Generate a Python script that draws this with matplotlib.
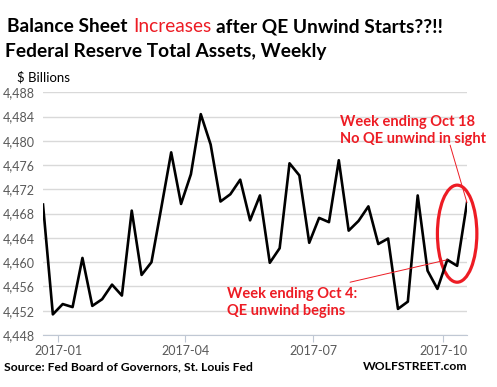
import matplotlib.pyplot as plt
import matplotlib.dates as mdates
from matplotlib import ticker
from matplotlib.patches import Ellipse
import pandas as pd

plt.rcParams['font.family'] = ['Lato', 'DejaVu Sans']

# weekly Fed total assets, $ billions
weeks = pd.date_range('2016-12-21', periods=44, freq='7D')
assets = [4469.5, 4451.4, 4453.1, 4452.6, 4460.7, 4452.8, 4453.9, 4456.3, 4454.5,
          4468.5, 4457.9, 4460.0, 4469.0, 4478.1, 4469.6, 4474.5, 4484.4, 4479.4,
          4470.0, 4471.2, 4473.6, 4466.9, 4471.0, 4459.9, 4462.3, 4476.3, 4474.3,
          4463.2, 4467.3, 4466.6, 4476.8, 4465.2, 4466.8, 4469.2, 4463.0, 4463.9,
          4452.3, 4453.5, 4471.0, 4458.6, 4455.6, 4460.4, 4459.4, 4469.8]
yticks = list(range(4448, 4489, 4))

RED = '#ED1C24'
GRAY = '#595959'

W, H = 497, 387
fig = plt.figure(figsize=(W / 100, H / 100), dpi=100)
ax = fig.add_axes([43 / W, 1 - 335 / H, 424 / W, 242.7 / H])

ax.plot(weeks, assets, color='black', lw=1.9)
ax.set_xlim(weeks[0], weeks[-1])
ax.set_ylim(yticks[0], yticks[-1])
ax.set_yticks(yticks)
ax.yaxis.set_major_formatter(ticker.StrMethodFormatter('{x:,.0f}'))
ax.xaxis.set_major_locator(mdates.MonthLocator(bymonth=[1, 4, 7, 10]))
ax.xaxis.set_major_formatter(mdates.DateFormatter('%Y-%m'))
ax.grid(axis='y', color='#d9d9d9', lw=1)
ax.set_axisbelow(True)
for s in ['left', 'right', 'top']:
    ax.spines[s].set_visible(False)
ax.spines['bottom'].set_color('#c0c8d4')
ax.tick_params(axis='y', length=0, labelcolor=GRAY, labelsize=9, pad=6)
ax.tick_params(axis='x', length=5, color='#c0c8d4', labelcolor=GRAY, labelsize=9, pad=2)

# annotations
oct18 = (weeks[-1], assets[-1])
oct4 = (weeks[-3], assets[-3])
ax.add_patch(Ellipse((mdates.date2num(weeks[-2]), 4464.7), width=28, height=16,
                     fill=False, edgecolor=RED, lw=2.3, clip_on=False))
ax.annotate('', xy=oct18, xytext=(pd.Timestamp('2017-10-06'), 4479.3),
            arrowprops=dict(arrowstyle='-', color=RED, lw=0.7, shrinkA=0, shrinkB=0))
ax.annotate('', xy=oct4, xytext=(pd.Timestamp('2017-07-27'), 4456.7),
            arrowprops=dict(arrowstyle='-', color=RED, lw=0.7, shrinkA=0, shrinkB=0))
ax.text(0.7005, 0.8426, 'Week ending Oct 18\nNo QE unwind in sight', transform=ax.transAxes,
        color=RED, fontsize=10.5, fontweight='bold', va='center', ha='left', linespacing=1.3)
ax.text(0.4333, 0.1351, 'Week ending Oct 4:\nQE unwind begins', transform=ax.transAxes,
        color=RED, fontsize=10.5, fontweight='bold', va='center', ha='left', linespacing=1.3)

# title, built from pieces so one word can be red
TSIZE = 13.8
pieces = [('Balance Sheet', 'black', 'bold'), ('Increases', RED, 'normal'),
          ('after QE Unwind Starts??!!', 'black', 'bold')]
t = fig.text(7 / W, 1 - 27 / H, pieces[0][0], color=pieces[0][1], fontweight=pieces[0][2],
             fontsize=TSIZE, va='center', ha='left')
for s, c, w in pieces[1:]:
    t = fig.add_artist(plt.Annotation(s, xy=(1, 0.5), xycoords=t, xytext=(3.8, 0),
                                      textcoords='offset points', color=c, fontweight=w,
                                      fontsize=TSIZE, va='center', ha='left'))
fig.text(5 / W, 1 - 52 / H, 'Federal Reserve Total Assets, Weekly', fontsize=TSIZE,
         fontweight='bold', va='center', ha='left')
fig.text(17 / W, 1 - 77 / H, '$ Billions', fontsize=9.5, va='center', ha='left')
fig.text(4 / W, 1 - 366.7 / H, 'Source: Fed Board of Governors, St. Louis Fed',
         fontsize=8.7, fontweight='bold', va='center', ha='left')
fig.text(467 / W, 1 - 366.7 / H, 'WOLFSTREET.com', fontsize=8.7, fontweight='bold',
         va='center', ha='right')

fig.savefig('out.png', dpi=100)
